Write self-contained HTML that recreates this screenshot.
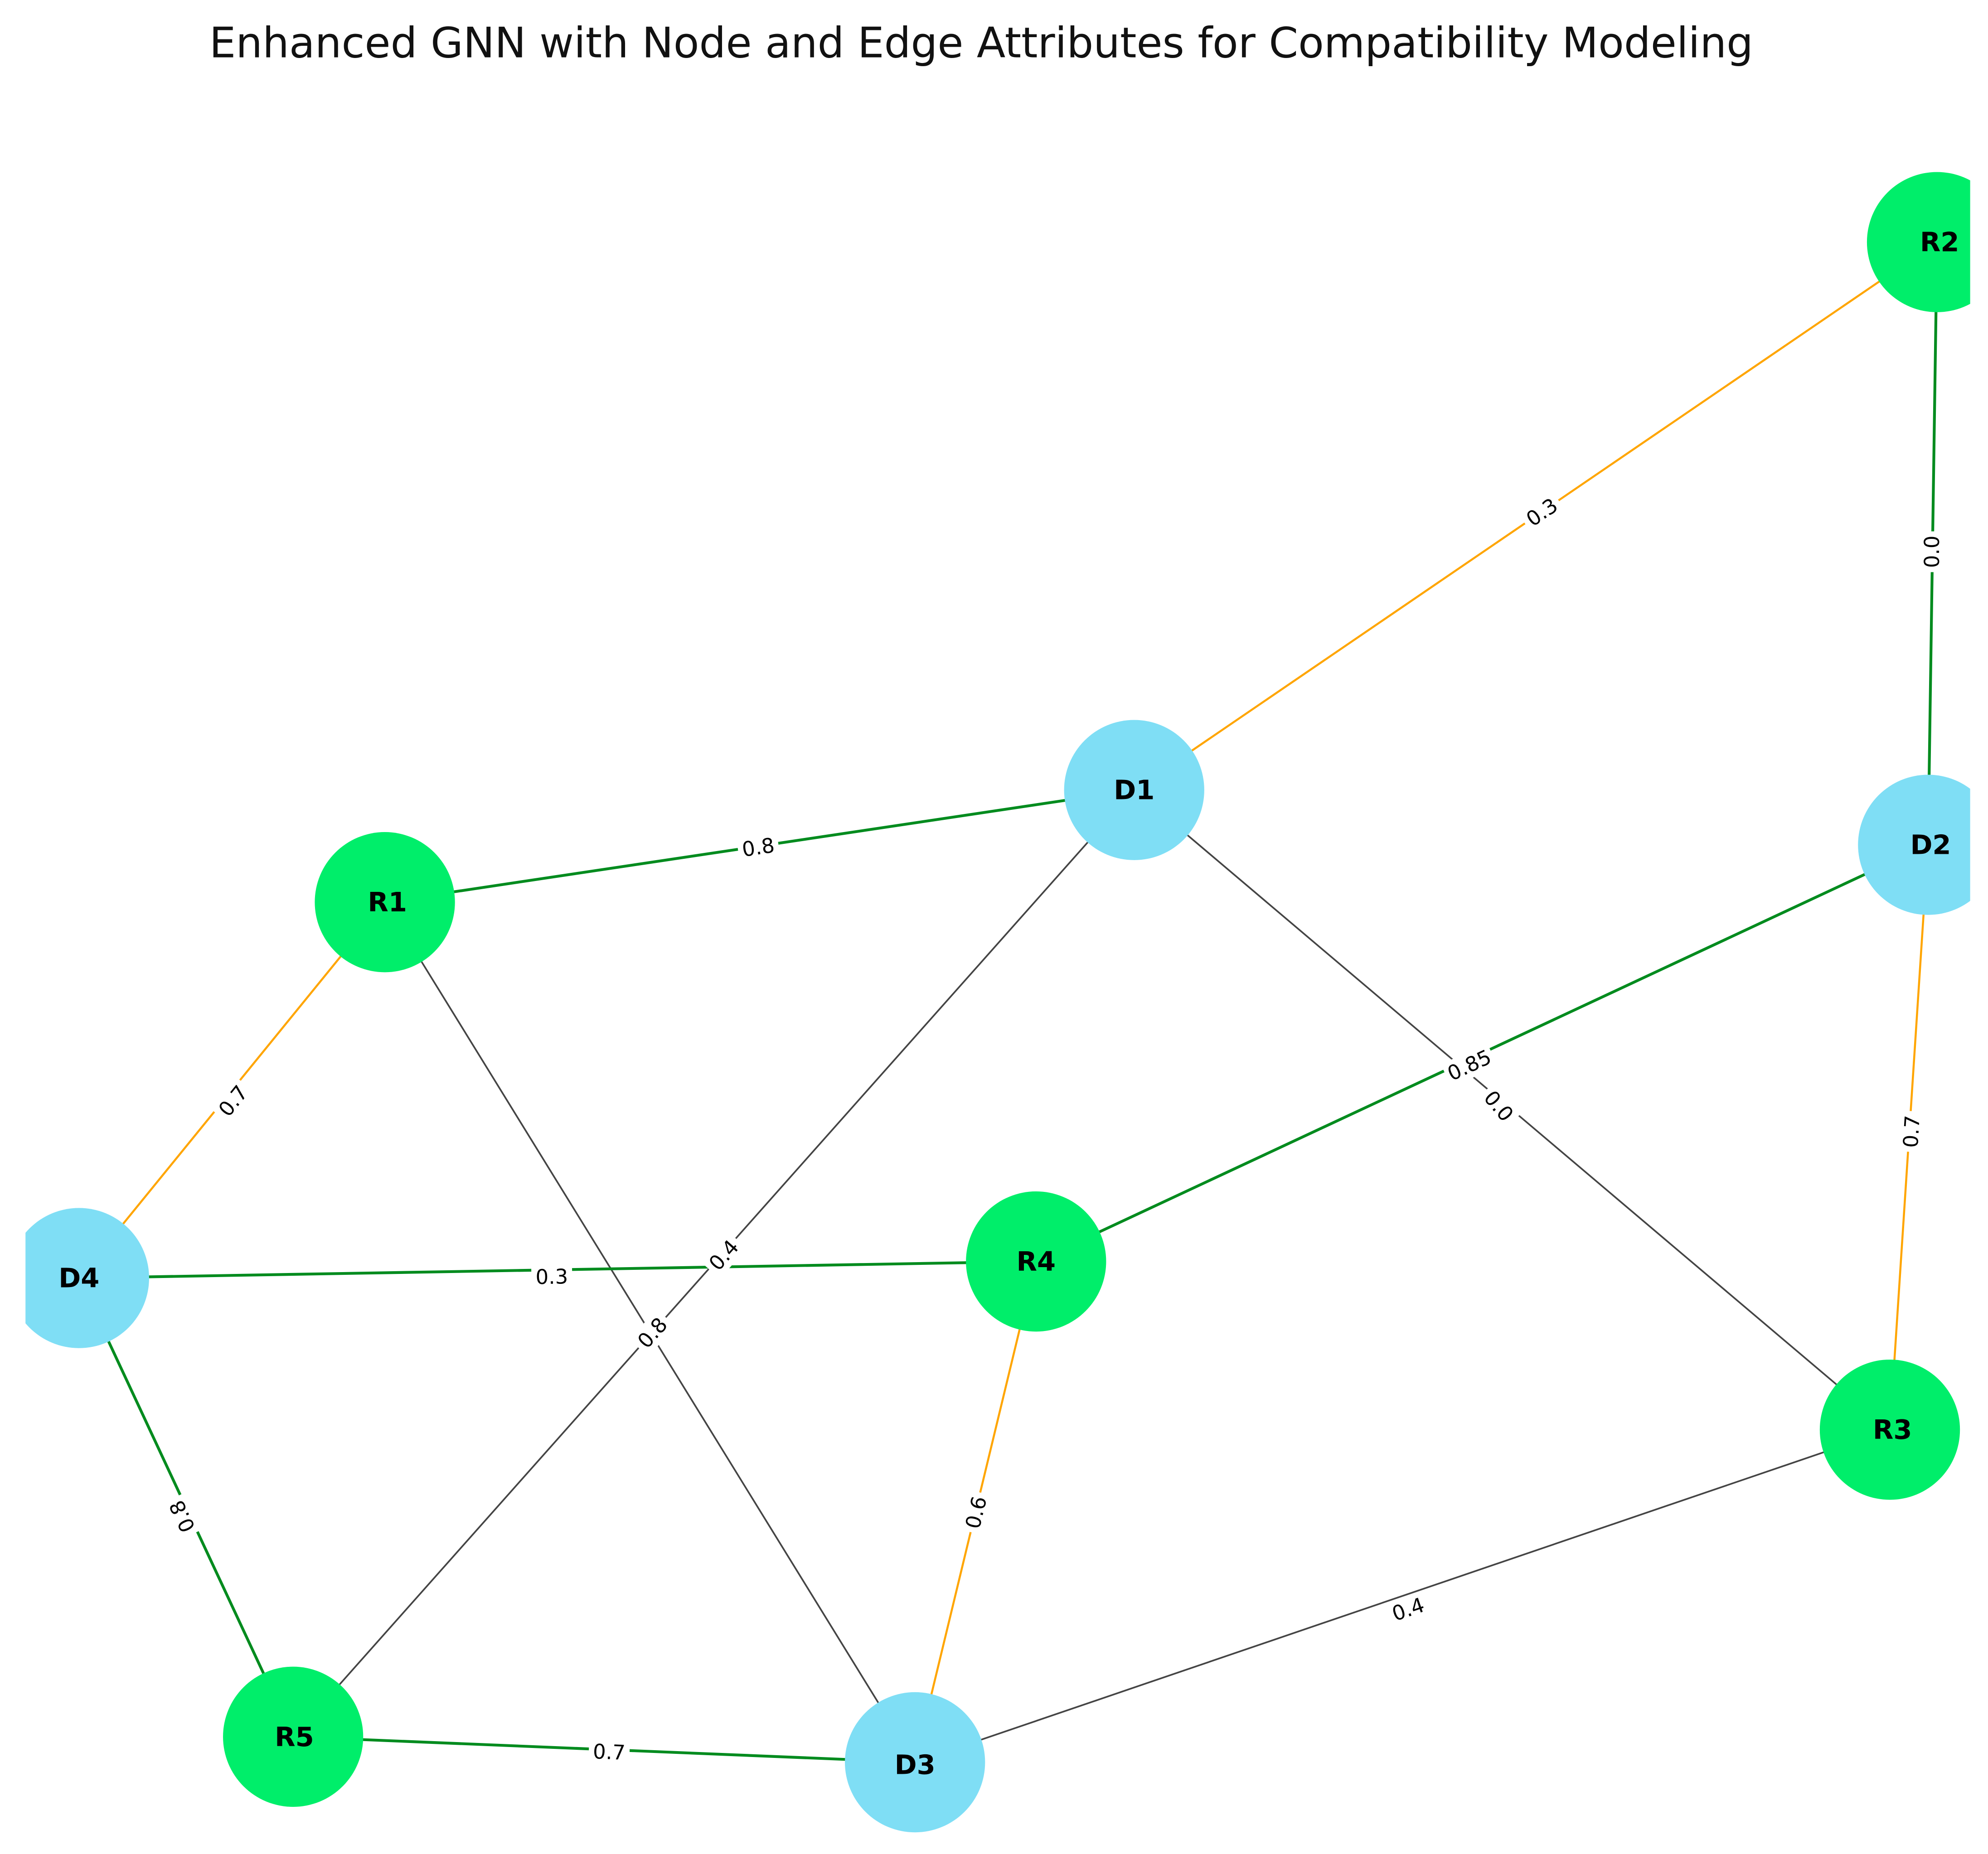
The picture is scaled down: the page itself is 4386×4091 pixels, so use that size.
<!DOCTYPE html>
<html><head><meta charset="utf-8">
<style>
html,body{margin:0;padding:0;background:#fff;}
svg{display:block;}
</style></head>
<body>
<svg xmlns="http://www.w3.org/2000/svg" width="4386" height="4091" viewBox="0 0 1560 1455" preserveAspectRatio="none">
<rect x="0" y="0" width="1560" height="1455" fill="#fff"/>
<text x="770" y="45" text-anchor="middle" font-family="DejaVu Sans, Liberation Sans, sans-serif" font-size="33" fill="#111">Enhanced GNN with Node and Edge Attributes for Compatibility Modeling</text>
<defs><clipPath id="c"><rect x="20" y="60" width="1526" height="1395"/></clipPath></defs>
<g clip-path="url(#c)">
<g stroke-linecap="round">
<line x1="1520" y1="190" x2="890" y2="620" stroke="#ffa500" stroke-width="1.6"/>
<line x1="1520" y1="190" x2="1513" y2="663" stroke="#008b1e" stroke-width="2.2"/>
<line x1="302" y1="708" x2="890" y2="620" stroke="#008b1e" stroke-width="2.2"/>
<line x1="302" y1="708" x2="62" y2="1003" stroke="#ffa500" stroke-width="1.6"/>
<line x1="302" y1="708" x2="718" y2="1383" stroke="#444" stroke-width="1.3"/>
<line x1="890" y1="620" x2="230" y2="1363" stroke="#444" stroke-width="1.3"/>
<line x1="890" y1="620" x2="1483" y2="1122" stroke="#444" stroke-width="1.3"/>
<line x1="1513" y1="663" x2="813" y2="990" stroke="#008b1e" stroke-width="2.2"/>
<line x1="1513" y1="663" x2="1483" y2="1122" stroke="#ffa500" stroke-width="1.6"/>
<line x1="62" y1="1003" x2="813" y2="990" stroke="#008b1e" stroke-width="2.2"/>
<line x1="62" y1="1003" x2="230" y2="1363" stroke="#008b1e" stroke-width="2.2"/>
<line x1="813" y1="990" x2="718" y2="1383" stroke="#ffa500" stroke-width="1.6"/>
<line x1="230" y1="1363" x2="718" y2="1383" stroke="#008b1e" stroke-width="2.2"/>
<line x1="718" y1="1383" x2="1483" y2="1122" stroke="#444" stroke-width="1.3"/>
</g>
<g font-family="DejaVu Sans, Liberation Sans, sans-serif" font-size="16" fill="#000" text-anchor="middle" dominant-baseline="central">
<g transform="translate(1210,402) rotate(-34.3)"><rect x="-16" y="-10" width="32" height="20" fill="#fff"/><text x="0" y="0">0.3</text></g>
<g transform="translate(1516,433) rotate(-90)"><rect x="-16" y="-10" width="32" height="20" fill="#fff"/><text x="0" y="0">0.0</text></g>
<g transform="translate(595,665) rotate(-8.5)"><rect x="-16" y="-10" width="32" height="20" fill="#fff"/><text x="0" y="0">0.8</text></g>
<g transform="translate(183,864) rotate(-51)"><rect x="-16" y="-10" width="32" height="20" fill="#fff"/><text x="0" y="0">0.7</text></g>
<g transform="translate(568,985) rotate(-48.4)"><rect x="-16" y="-10" width="32" height="20" fill="#fff"/><text x="0" y="0">0.4</text></g>
<g transform="translate(512,1046) rotate(-48.4)"><rect x="-16" y="-10" width="32" height="20" fill="#fff"/><text x="0" y="0">0.8</text></g>
<g transform="translate(1176,868) rotate(50)"><rect x="-16" y="-10" width="32" height="20" fill="#fff"/><text x="0" y="0">0.0</text></g>
<g transform="translate(1153,836) rotate(-25)"><rect x="-20" y="-10" width="40" height="20" fill="#fff"/><text x="0" y="0">0.85</text></g>
<g transform="translate(1500,888) rotate(-86.3)"><rect x="-16" y="-10" width="32" height="20" fill="#fff"/><text x="0" y="0">0.7</text></g>
<g transform="translate(433,1002) rotate(-1)"><rect x="-16" y="-10" width="32" height="20" fill="#fff"/><text x="0" y="0">0.3</text></g>
<g transform="translate(143,1190) rotate(245)"><rect x="-16" y="-10" width="32" height="20" fill="#fff"/><text x="0" y="0">0.8</text></g>
<g transform="translate(766,1187) rotate(-76.4)"><rect x="-16" y="-10" width="32" height="20" fill="#fff"/><text x="0" y="0">0.6</text></g>
<g transform="translate(478,1375) rotate(2.4)"><rect x="-16" y="-10" width="32" height="20" fill="#fff"/><text x="0" y="0">0.7</text></g>
<g transform="translate(1105,1263) rotate(-18.8)"><rect x="-16" y="-10" width="32" height="20" fill="#fff"/><text x="0" y="0">0.4</text></g>
</g>
<g>
<circle cx="1520" cy="190" r="55" fill="#00ee6a"/>
<circle cx="890" cy="620" r="55" fill="#7fdef5"/>
<circle cx="1513" cy="663" r="55" fill="#7fdef5"/>
<circle cx="302" cy="708" r="55" fill="#00ee6a"/>
<circle cx="62" cy="1003" r="55" fill="#7fdef5"/>
<circle cx="813" cy="990" r="55" fill="#00ee6a"/>
<circle cx="1483" cy="1122" r="55" fill="#00ee6a"/>
<circle cx="230" cy="1363" r="55" fill="#00ee6a"/>
<circle cx="718" cy="1383" r="55" fill="#7fdef5"/>
</g>
<g font-family="DejaVu Sans, Liberation Sans, sans-serif" font-size="21" font-weight="bold" fill="#000" text-anchor="middle" dominant-baseline="central">
<text x="1522" y="190">R2</text>
<text x="890" y="620">D1</text>
<text x="1515" y="663">D2</text>
<text x="304" y="708">R1</text>
<text x="62" y="1003">D4</text>
<text x="813" y="990">R4</text>
<text x="1485" y="1122">R3</text>
<text x="231" y="1363">R5</text>
<text x="718" y="1385">D3</text>
</g>
</g>
</svg>
</body></html>
